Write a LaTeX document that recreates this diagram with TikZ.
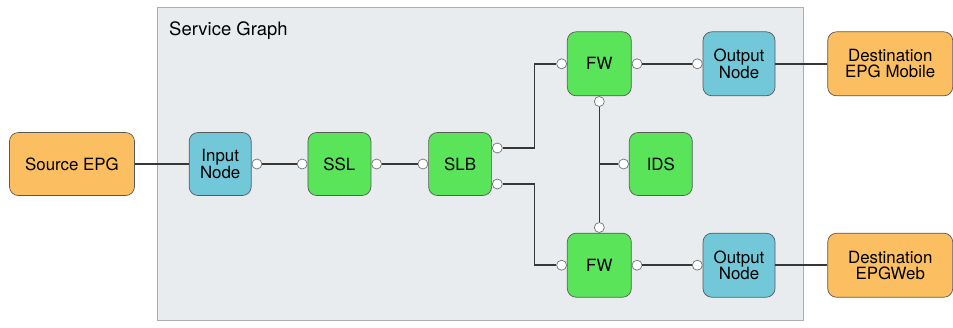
\documentclass[tikz,border=0pt]{standalone}
\usepackage{fontspec}
\setmainfont{TeX Gyre Heros}
\usepackage{tikz}
\usetikzlibrary{positioning,calc}
\usepackage{xcolor}
\definecolor{sgorange}{RGB}{251,190,96}
\definecolor{sgblue}{RGB}{114,200,216}
\definecolor{sggreen}{RGB}{90,228,90}
\definecolor{sgback}{RGB}{232,236,238}
\definecolor{sgframe}{RGB}{172,174,176}
\definecolor{sgline}{RGB}{55,55,55}

\begin{document}
\begin{tikzpicture}[
    block/.style={rectangle, draw=black!65, fill=#1, minimum height=1.26cm, minimum width=1.26cm, align=center, rounded corners=5pt, inner sep=1pt, font=\fontsize{9.6}{9.2}\selectfont},
    block/.default=sggreen,
    epg/.style={block=sgorange, minimum width=2.5cm},
    endpt/.style={block=sgblue, minimum width=1.44cm},
    port/.style={circle, draw=black!55, fill=white, inner sep=0pt, minimum size=0.2cm},
    link/.style={line width=0.9pt, color=sgline},
]
\useasboundingbox (0,0) rectangle (19.06,-6.54);

% Service graph area
\draw[fill=sgback, draw=sgframe] (3.14,-0.14) rectangle (16.06,-6.40);
\node[anchor=north west, font=\fontsize{10.5}{10.5}\selectfont] (title) at (3.26,-0.32) {Service Graph};

% Main chain
\node[epg] (src) at (1.44,-3.28) {Source EPG};
\node[endpt, minimum width=1.24cm, right=1.08cm of src] (input) {Input\\Node};
\node[block, right=1.12cm of input] (ssl) {SSL};
\node[block, right=1.14cm of ssl] (slb) {SLB};

% Firewalls and IDS
\node[block, minimum size=1.28cm, above right=0.72cm and 1.5cm of slb] (fw_top) {FW};
\node[block, minimum size=1.28cm, below right=0.74cm and 1.5cm of slb] (fw_bot) {FW};
\node[block, right=2.74cm of slb] (ids) {IDS};

% Outputs
\node[endpt, minimum height=1.28cm, right=1.42cm of fw_top] (out_top) {Output\\Node};
\node[endpt, minimum height=1.28cm, right=1.42cm of fw_bot] (out_bot) {Output\\Node};
\node[epg, minimum height=1.28cm, right=1.04cm of out_top] (dst_mobile) {Destination\\EPG Mobile};
\node[epg, minimum height=1.28cm, right=1.04cm of out_bot] (dst_web) {Destination\\EPGWeb};

% Ports
\node[port, anchor=west] (p_input) at (input.east) {};
\node[port, anchor=east] (p_ssl_in) at (ssl.west) {};
\node[port, anchor=west] (p_ssl_out) at (ssl.east) {};
\node[port, anchor=east] (p_slb_in) at (slb.west) {};
\node[port, anchor=west] (p_slb_a) at ([yshift=0.32cm]slb.east) {};
\node[port, anchor=west] (p_slb_b) at ([yshift=-0.4cm]slb.east) {};
\node[port, anchor=east] (p_fwt_in) at (fw_top.west) {};
\node[port, anchor=west] (p_fwt_out) at (fw_top.east) {};
\node[port, anchor=north] (p_fwt_s) at (fw_top.south) {};
\node[port, anchor=east] (p_fwb_in) at (fw_bot.west) {};
\node[port, anchor=west] (p_fwb_out) at (fw_bot.east) {};
\node[port, anchor=south] (p_fwb_n) at (fw_bot.north) {};
\node[port, anchor=east] (p_ids) at (ids.west) {};
\node[port, anchor=east] (p_outt) at (out_top.west) {};
\node[port, anchor=east] (p_outb) at (out_bot.west) {};

% Links
\draw[link] (src) -- (input);
\draw[link] (p_input) -- (p_ssl_in);
\draw[link] (p_ssl_out) -- (p_slb_in);
\draw[link] (p_slb_a) -- ++(0.74,0) |- (p_fwt_in);
\draw[link] (p_slb_b) -- ++(0.74,0) |- (p_fwb_in);
\draw[link] (p_fwt_s) -- (p_fwb_n);
\draw[link] (p_ids) -- (p_ids -| p_fwt_s);
\draw[link] (p_fwt_out) -- (p_outt);
\draw[link] (p_fwb_out) -- (p_outb);
\draw[link] (out_top) -- (dst_mobile);
\draw[link] (out_bot) -- (dst_web);

\end{tikzpicture}
\end{document}
